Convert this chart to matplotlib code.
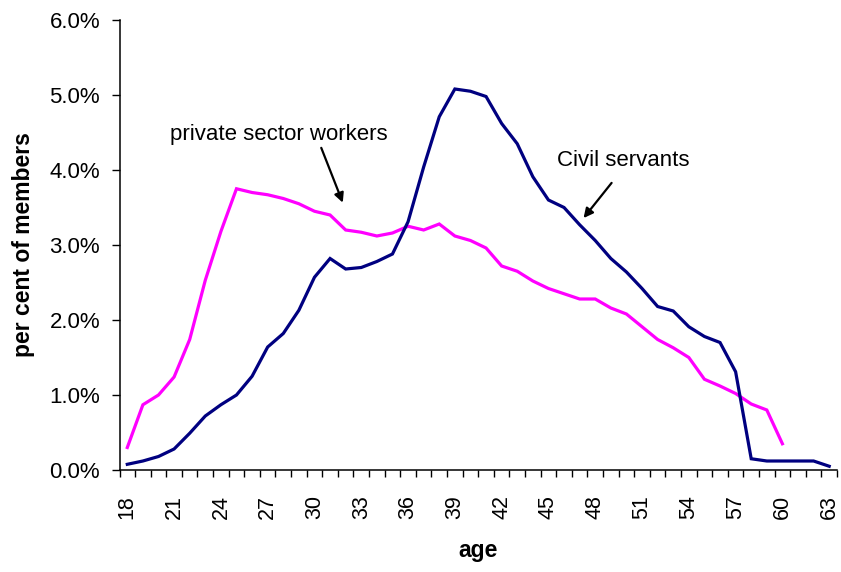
import matplotlib
matplotlib.use("Agg")
import matplotlib.pyplot as plt
from matplotlib.ticker import FuncFormatter, FixedLocator
import numpy as np

plt.rcParams['font.family'] = ['Liberation Sans', 'DejaVu Sans']

ages_civil = list(range(18, 64))
civil_servants = [0.076, 0.12, 0.18, 0.28, 0.49, 0.72, 0.87, 1.00, 1.25, 1.64,
                  1.82, 2.13, 2.57, 2.82, 2.68, 2.70, 2.78, 2.88, 3.31, 4.04,
                  4.71, 5.08, 5.05, 4.98, 4.62, 4.35, 3.91, 3.60, 3.50, 3.27,
                  3.06, 2.82, 2.64, 2.42, 2.18, 2.12, 1.91, 1.78, 1.70, 1.31,
                  0.15, 0.12, 0.12, 0.12, 0.12, 0.05]

ages_private = list(range(18, 61))
private_sector = [0.30, 0.87, 1.00, 1.24, 1.74, 2.53, 3.18, 3.75, 3.70, 3.67,
                  3.62, 3.55, 3.45, 3.40, 3.20, 3.17, 3.12, 3.16, 3.25, 3.20,
                  3.28, 3.12, 3.06, 2.96, 2.72, 2.65, 2.52, 2.42, 2.35, 2.28,
                  2.28, 2.16, 2.08, 1.91, 1.74, 1.63, 1.50, 1.21, 1.12, 1.02,
                  0.88, 0.80, 0.35]

xtick_labels = list(range(18, 64, 3))
ytick_values = [0, 1, 2, 3, 4, 5, 6]

fig = plt.figure(figsize=(8.41, 5.72), dpi=100)
ax = fig.add_axes([119.5/841, 1-470/572, (837-119.5)/841, 450/572])

ax.plot(ages_private, private_sector, color='#FF00FF', lw=2.3, solid_joinstyle='miter')
ax.plot(ages_civil, civil_servants, color='#000080', lw=2.3, solid_joinstyle='miter')

ax.set_xlim(17.5, 63.5)
ax.set_ylim(0, 6)

ax.xaxis.set_major_locator(FixedLocator(xtick_labels))
ax.xaxis.set_minor_locator(FixedLocator(np.arange(17.5, 64.0, 1.0)))
ax.set_xticklabels([str(v) for v in xtick_labels], rotation=90, fontsize=15.5)
ax.tick_params(axis='x', which='major', length=0, pad=18)
ax.tick_params(axis='x', which='minor', length=5, width=1, direction='out')

ax.set_yticks(ytick_values)
ax.yaxis.set_major_formatter(FuncFormatter(lambda v, p: f"{v:.1f}%"))
ax.tick_params(axis='y', which='major', length=6, width=1, direction='out', labelsize=16, pad=8)

for s in ['top', 'right']:
    ax.spines[s].set_visible(False)
for s in ['left', 'bottom']:
    ax.spines[s].set_linewidth(1.1)

ax.set_xlabel('age', fontsize=16.5, fontweight='bold')
ax.xaxis.set_label_coords(0.5, -(539 - 470) / 450)
ax.set_ylabel('per cent of members', fontsize=16.5, fontweight='bold')
ax.yaxis.set_label_coords((35.5 - 119.5) / 717.5, 0.5)

ax.text(27.7, 4.47, 'private sector workers', fontsize=16, ha='center', va='center')
ax.annotate('', xy=(31.88, 3.53), xytext=(30.37, 4.33),
            arrowprops=dict(arrowstyle='-|>', color='black', lw=1.6, mutation_scale=14))
ax.text(49.8, 4.12, 'Civil servants', fontsize=16, ha='center', va='center')
ax.annotate('', xy=(47.14, 3.33), xytext=(49.16, 3.857),
            arrowprops=dict(arrowstyle='-|>', color='black', lw=1.6, mutation_scale=14))

fig.savefig('out.png', dpi=100)
